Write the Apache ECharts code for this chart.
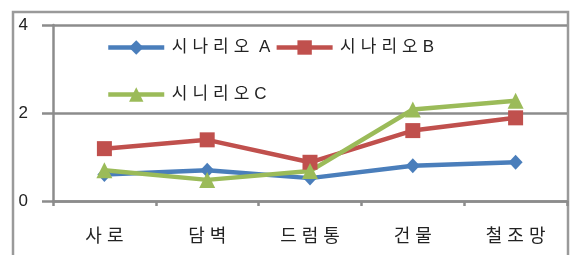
<!DOCTYPE html>
<html><head><meta charset="utf-8">
<script src="https://cdn.jsdelivr.net/npm/echarts@6/dist/echarts.min.js"></script>
<style>html,body{margin:0;padding:0;background:#fff}#c{width:578px;height:255px}</style>
</head><body><div id="c"></div>
<script>
const categories = ['사로', '담벽', '드럼통', '건물', '철조망'];
const seriesNames = ['시나리오 A', '시나리오B', '시니리오C'];
const valuesA = [0.6, 0.7, 0.52, 0.8, 0.88];
const valuesB = [1.19, 1.39, 0.88, 1.6, 1.89];
const valuesC = [0.7, 0.48, 0.68, 2.08, 2.28];
const yTicks = [0, 2, 4];

const FONT = '"Liberation Sans", "Noto Sans CJK KR", sans-serif';
function spaced(s) {
  return s.split('').map(ch => ch === ' ' ? '{w| }' : '{s|' + ch + '}').join('');
}
const rich = {
  s: { padding: [0, 2.5], fontFamily: FONT, fontSize: 17, color: '#222' },
  w: { padding: [0, 0], fontFamily: FONT, fontSize: 17, color: '#222' }
};
const richX = {
  s: { padding: [0, 2.5], fontFamily: FONT, fontSize: 18, color: '#222' }
};
const colors = ['#4a7ebb', '#c0504d', '#9bbb59'];
const chart = echarts.init(document.getElementById('c'), null, { renderer: 'canvas' });
const mk = (name, data, color, symbol, size) => ({
  name, type: 'line', data, symbol, symbolSize: size, showAllSymbol: true,
  lineStyle: { color, width: 4.5 }, itemStyle: { color },
  emphasis: { disabled: true }, animation: false
});
const legendBase = {
  itemWidth: 56, itemHeight: 18, itemGap: 4,
  formatter: n => spaced(n), textStyle: { rich, fontFamily: FONT, fontSize: 17 },
  lineStyle: { width: 4.5 }, selectedMode: false
};
chart.setOption({
  animation: false,
  color: colors,
  grid: { left: 53, right: 11, top: 25, bottom: 54 },
  graphic: [{
    type: 'rect', shape: { x: 13, y: 12, width: 555, height: 260 },
    style: { fill: 'none', stroke: '#9a9a9a', lineWidth: 2.5 }, z: 0
  }],
  legend: [
    Object.assign({ data: seriesNames.slice(0, 2), left: 101, top: 34 }, legendBase),
    Object.assign({ data: seriesNames.slice(2), left: 101, top: 81 }, legendBase)
  ],
  xAxis: {
    type: 'category', data: categories, boundaryGap: true,
    axisLine: { lineStyle: { color: '#8c8c8c', width: 2.5 } },
    axisTick: { show: true, length: 5, lineStyle: { color: '#8c8c8c', width: 2.5 } },
    axisLabel: { interval: 0, margin: 27, formatter: v => spaced(v), rich: richX }
  },
  yAxis: {
    type: 'value', min: yTicks[0], max: yTicks[yTicks.length - 1], interval: 2,
    axisLine: { show: true, lineStyle: { color: '#8c8c8c', width: 2.5 } },
    axisTick: { show: true, length: 11, lineStyle: { color: '#8c8c8c', width: 2.5 } },
    splitLine: { lineStyle: { color: '#8c8c8c', width: 2.5 } },
    axisLabel: { margin: 25, fontFamily: FONT, fontSize: 17, color: '#222' }
  },
  series: [
    mk(seriesNames[0], valuesA, colors[0], 'diamond', [14, 15]),
    mk(seriesNames[1], valuesB, colors[1], 'rect', 15),
    mk(seriesNames[2], valuesC, colors[2], 'triangle', 16)
  ]
});
</script></body></html>
